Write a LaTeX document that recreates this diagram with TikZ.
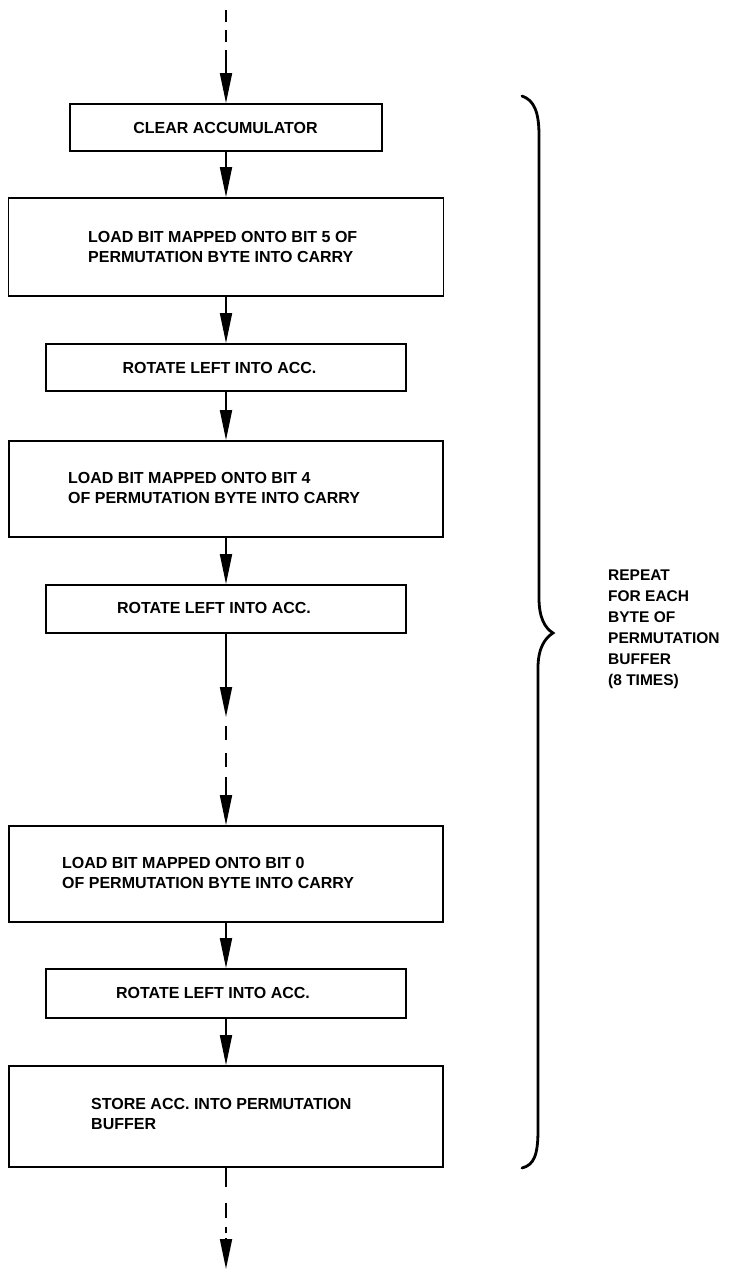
\documentclass[tikz,border=0pt]{standalone}
\usepackage{fontspec}
\setmainfont{Liberation Sans}
\usetikzlibrary{arrows.meta}
\tikzset{
  box/.style={draw, line width=1.8pt, inner sep=0pt},
  txt/.style={font=\bfseries\fontsize{16}{20}\selectfont, inner sep=0pt, align=left},
  reptxt/.style={font=\bfseries\fontsize{15.5}{21}\selectfont, inner sep=0pt, align=left},
  arr/.style={line width=1.8pt, -{Triangle[length=30pt,width=12pt]}},
  seg/.style={line width=1.8pt},
  brace/.style={line width=2.8pt, line cap=round}
}
\begin{document}
\begin{tikzpicture}[x=1pt,y=-1pt]
\useasboundingbox[fill=white] (0,0) rectangle (730,1270);
% boxes
\node[box, minimum width=312pt, minimum height=47pt] (b1) at (226,127.5) {};
\node[box, minimum width=435pt, minimum height=98pt] (b2) at (226,247) {};
\node[box, minimum width=360pt, minimum height=47pt] (b3) at (226,367.5) {};
\node[box, minimum width=434pt, minimum height=96pt] (b4) at (226,489) {};
\node[box, minimum width=360pt, minimum height=48pt] (b5) at (226,609) {};
\node[box, minimum width=434pt, minimum height=96pt] (b6) at (226,874) {};
\node[box, minimum width=360pt, minimum height=49pt] (b7) at (226,993.5) {};
\node[box, minimum width=434pt, minimum height=101pt] (b8) at (226,1116.5) {};
% texts
\node[txt] (t1) at (225.5,127.5) {CLEAR ACCUMULATOR};
\node[txt, anchor=west] (t2) at (88,247) {LOAD BIT MAPPED ONTO BIT 5 OF\\PERMUTATION BYTE INTO CARRY};
\node[txt] (t3) at (219.5,368) {ROTATE LEFT INTO ACC.};
\node[txt, anchor=west] (t4) at (68,488) {LOAD BIT MAPPED ONTO BIT 4\\OF PERMUTATION BYTE INTO CARRY};
\node[txt] (t5) at (214,608) {ROTATE LEFT INTO ACC.};
\node[txt, anchor=west] (t6) at (62,873) {LOAD BIT MAPPED ONTO BIT 0\\OF PERMUTATION BYTE INTO CARRY};
\node[txt] (t7) at (213,993) {ROTATE LEFT INTO ACC.};
\node[txt, anchor=west] (t8) at (91,1114) {STORE ACC. INTO PERMUTATION\\BUFFER};
\node[reptxt, anchor=west] (rep) at (608,629.5) {REPEAT\\FOR EACH\\BYTE OF\\PERMUTATION\\BUFFER\\(8 TIMES)};
% coordinates
\coordinate (top) at (226,10);
\coordinate (topd) at (226,42);
\coordinate (tops) at (226,50);
\coordinate (m1) at (226,717);
\coordinate (m2) at (226,726);
\coordinate (m3) at (226,768);
\coordinate (m4) at (226,777);
\coordinate (e1) at (226,1187);
\coordinate (e2) at (226,1203);
\coordinate (e3) at (226,1233);
\coordinate (e4) at (226,1238);
\coordinate (bot) at (226,1269);
% connectors
\draw[seg, dash pattern=on 12pt off 8pt] (top) -- (topd);
\draw[arr] (tops) -- (b1.north);
\draw[arr] (b1.south) -- (b2.north);
\draw[arr] (b2.south) -- (b3.north);
\draw[arr] (b3.south) -- (b4.north);
\draw[arr] (b4.south) -- (b5.north);
\draw[arr] (b5.south) -- (m1);
\draw[seg, dash pattern=on 14pt off 13pt] (m2) -- (m3);
\draw[arr] (m4) -- (b6.north);
\draw[arr] (b6.south) -- (b7.north);
\draw[arr] (b7.south) -- (b8.north);
\draw[seg] (b8.south) -- (e1);
\draw[seg, dash pattern=on 15pt off 9pt] (e2) -- (e3);
\draw[arr] (e4) -- (bot);
% brace
\draw[brace] (522,96) .. controls (534,100) and (539,112) .. (539,135)
  -- (539,598) .. controls (539,618) and (545,628) .. (553,633)
  .. controls (545,638) and (538,648) .. (538,668)
  -- (538,1130) .. controls (538,1155) and (534,1165) .. (522,1168);
\end{tikzpicture}
\end{document}
